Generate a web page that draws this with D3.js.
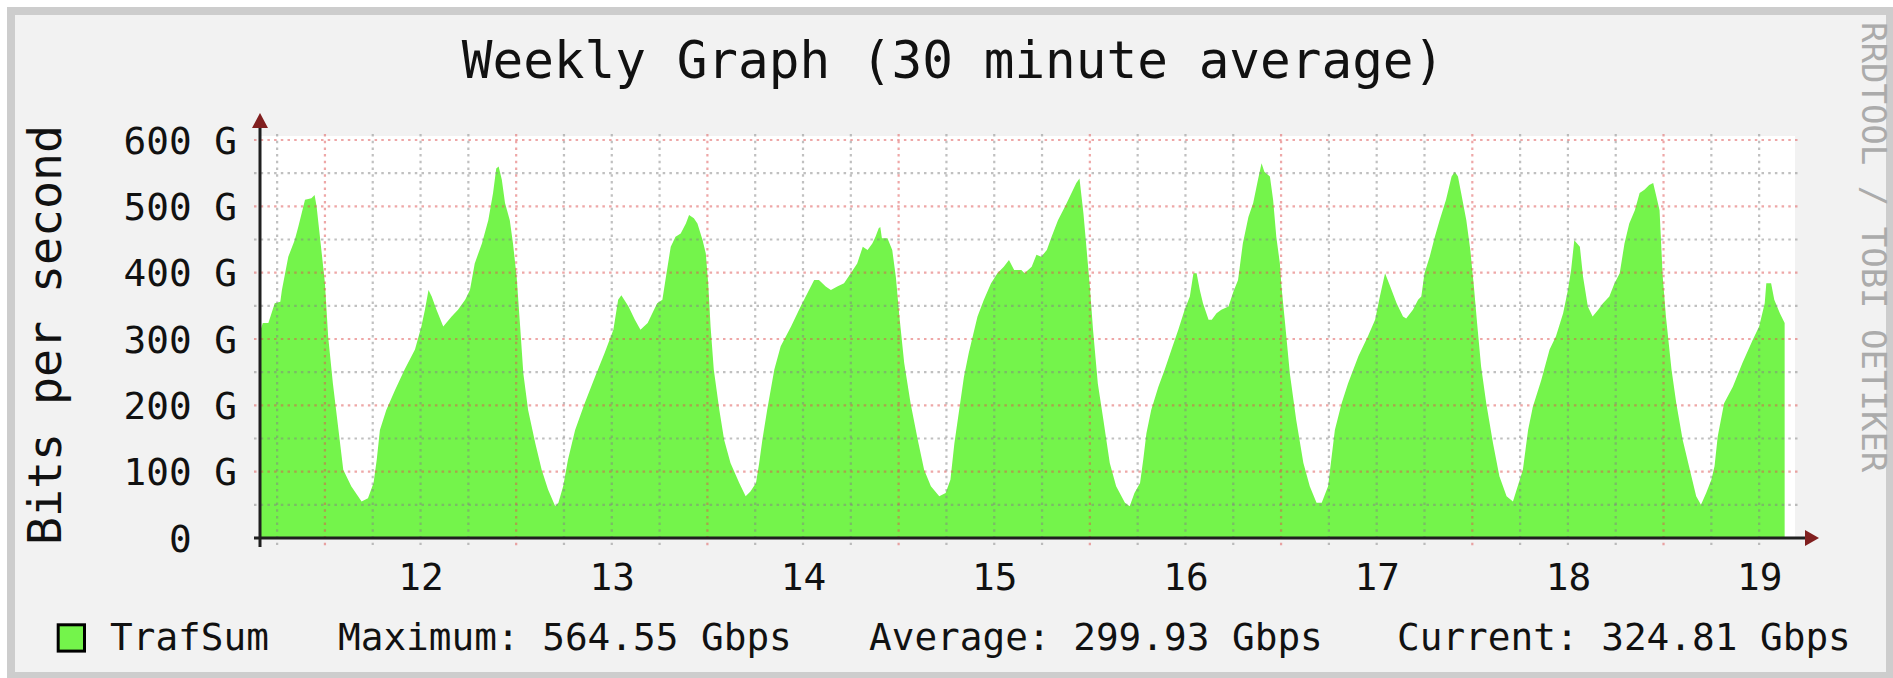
<!DOCTYPE html>
<html><head><meta charset="utf-8">
<script src="https://cdn.jsdelivr.net/npm/d3@7"></script>
<style>
html,body{margin:0;padding:0;background:#fff;}
svg{display:block;}
text{font-family:"DejaVu Sans Mono",monospace;white-space:pre;}
</style></head><body>
<svg id="chart" width="1893" height="678"></svg>
<script>
// ---- data (hours counted from day 11, 00:00; values in Gbit/s) ----
const chartTitle = "Weekly Graph (30 minute average)";
const unitLabel = "Bits per second";
const watermark = "RRDTOOL / TOBI OETIKER";
const hours = [15.85,16.2,16.9,17.7,18.4,18.6,19.4,20.2,20.65,21.5,22.3,22.7,22.95,23.6,24.0,24.4,25.0,25.7,26.3,27.3,28.6,29.4,30.1,30.5,30.9,31.7,32.8,34.0,35.3,36.1,36.55,37.0,37.4,38.0,38.85,39.9,40.7,41.6,42.2,42.8,43.7,44.5,45.1,45.5,45.8,46.2,46.6,47.2,47.6,48.06,48.5,48.9,49.5,50.4,51.2,52.0,52.9,53.3,53.9,54.5,55.4,56.6,57.9,59.1,60.2,60.8,61.2,62.1,62.9,63.6,64.5,65.3,65.7,66.35,66.8,67.4,68.0,68.65,69.3,69.7,70.3,70.75,71.4,71.8,72.1,72.4,72.8,73.5,74.1,74.9,76.0,76.8,77.4,78.1,78.5,78.9,79.5,80.4,81.2,82.5,83.7,84.55,85.4,86.0,86.85,87.5,88.3,89.15,90.0,90.8,91.5,92.1,92.7,93.1,93.5,93.7,93.9,94.6,95.2,95.65,96.1,96.7,97.5,98.4,99.2,100.05,101.1,101.9,102.5,103.0,103.6,104.2,104.8,105.9,106.7,107.6,108.4,109.2,109.85,110.5,111.4,111.8,112.7,113.3,113.9,114.6,115.2,116.0,116.9,117.7,118.3,118.7,119.2,119.6,120.0,120.4,121.0,121.7,122.5,123.3,124.4,125.0,125.6,126.3,126.7,127.1,127.7,128.6,129.4,130.25,131.1,131.9,132.55,133.0,133.4,133.8,134.2,134.9,135.3,135.9,136.5,137.4,138.0,138.6,139.2,139.9,140.5,141.1,141.55,141.9,142.6,143.0,143.4,143.85,144.05,144.5,145.1,145.9,146.8,147.6,148.45,149.1,149.9,150.3,150.75,151.6,152.4,153.7,154.9,155.8,156.4,157.05,157.7,158.5,159.3,159.7,160.55,161.2,161.6,162.0,162.65,163.3,163.9,164.7,165.4,165.8,166.2,166.6,167.25,167.75,168.2,168.6,169.1,169.75,170.6,171.4,172.3,173.1,173.7,174.35,175.0,175.6,176.65,177.7,178.5,179.4,180.0,180.4,180.8,181.5,181.9,182.5,183.1,183.8,184.4,185.2,185.85,186.5,187.1,187.7,188.4,189.0,189.6,190.2,190.7,191.1,191.5,191.9,192.3,193.0,193.6,194.4,195.3,196.1,196.7,197.35,198.0,198.4,198.8,199.6,200.7,201.9,203.2,204.0,204.7,204.9,205.5,205.9,206.6,207.2];
const traffic = [311,324,324,354,356,374,424,449,469,510,512,517,500,429,384,304,233,163,103,78,55,60,83,118,163,193,223,254,284,319,344,374,364,344,319,334,344,359,374,414,444,479,520,557,560,540,505,479,444,394,319,248,193,143,103,73,48,53,78,118,163,203,243,279,314,359,366,349,329,314,324,344,354,359,394,439,454,459,474,487,482,474,449,429,384,319,254,193,148,113,83,63,70,83,113,148,193,254,289,319,349,369,389,389,379,374,379,384,399,414,439,434,444,454,467,469,452,452,434,394,334,264,203,148,103,78,63,68,88,143,193,243,279,334,359,384,399,409,419,404,404,399,409,427,424,434,454,479,500,520,535,542,489,434,379,314,233,178,113,78,53,48,68,83,118,158,193,228,254,284,314,344,364,399,399,374,354,329,329,339,344,349,371,389,444,484,505,540,565,552,545,510,454,414,379,324,248,178,113,78,53,53,78,118,163,203,233,274,304,329,364,399,379,354,334,331,344,359,364,399,424,454,479,510,545,552,545,520,479,434,379,324,259,203,143,93,63,55,78,103,163,198,238,284,304,339,374,404,449,439,394,349,334,344,354,364,384,399,444,474,494,520,525,532,535,515,494,394,334,254,203,148,103,63,50,68,88,108,153,203,228,264,299,319,354,384,384,359,339,324];
const yTicks = [0,100,200,300,400,500,600];
const yTickLabels = ["0  ","100 G","200 G","300 G","400 G","500 G","600 G"];
const dayLabels = ["12","13","14","15","16","17","18","19"];
const legendName = "TrafSum";
const legendStats = ["Maximum: 564.55 Gbps","Average: 299.93 Gbps","Current: 324.81 Gbps"];

// ---- layout ----
const W = 1893, H = 678;
const X0 = 260, X1 = 1795, Y0 = 538, Y1 = 140;
const green = "#74F44B";
const svg = d3.select("#chart");

svg.append("rect").attr("x",7).attr("y",7).attr("width",W-7).attr("height",H-7).attr("fill","#cdcdcd");
svg.append("rect").attr("x",15).attr("y",15).attr("width",W-22).attr("height",H-21).attr("fill","#f2f2f2");

const x = d3.scaleLinear().domain([15.85, 208.5]).range([X0, X1]);
const y = d3.scaleLinear().domain([0, 600]).range([Y0, Y1]);

// canvas
svg.append("rect").attr("x",X0).attr("y",Y1-4).attr("width",X1-X0).attr("height",Y0-Y1+4).attr("fill","#fff");

// area
const data = hours.map((h,i)=>({h, v: traffic[i]}));
svg.append("path").datum(data)
  .attr("fill", green)
  .attr("d", d3.area().x(d=>x(d.h)).y0(y(0)).y1(d=>y(d.v)));

// grid (drawn over the area, like rrdtool)
const grid = svg.append("g");
const minorY = d3.range(50, 600, 100);
const minorX = d3.range(18, 208, 6).filter(h => h % 24 !== 0);
const majorX = d3.range(24, 208, 24);
const minorCol = "rgba(130,130,130,0.5)", majorCol = "rgba(222,79,79,0.5)";
const dash = "2.5,4.2";
grid.selectAll(".hy").data(minorY).join("line")
  .attr("x1",X0-6).attr("x2",X1+6).attr("y1",d=>y(d)).attr("y2",d=>y(d))
  .attr("stroke",minorCol).attr("stroke-width",2.2).attr("stroke-dasharray",dash);
grid.selectAll(".vx").data(minorX).join("line")
  .attr("x1",d=>x(d)).attr("x2",d=>x(d)).attr("y1",Y1-6).attr("y2",Y0+7)
  .attr("stroke",minorCol).attr("stroke-width",2.2).attr("stroke-dasharray",dash);
grid.selectAll(".hY").data(yTicks.slice(1)).join("line")
  .attr("x1",X0-6).attr("x2",X1+6).attr("y1",d=>y(d)).attr("y2",d=>y(d))
  .attr("stroke",majorCol).attr("stroke-width",2.2).attr("stroke-dasharray",dash);
grid.selectAll(".vX").data(majorX).join("line")
  .attr("x1",d=>x(d)).attr("x2",d=>x(d)).attr("y1",Y1-6).attr("y2",Y0+9)
  .attr("stroke",majorCol).attr("stroke-width",2.2).attr("stroke-dasharray",dash);

// axes lines + arrows
const axisCol = "#1f1f1f", arrowCol = "#801f1f";
svg.append("line").attr("x1",X0-6).attr("x2",1808).attr("y1",Y0).attr("y2",Y0).attr("stroke",axisCol).attr("stroke-width",3);
svg.append("line").attr("x1",X0).attr("x2",X0).attr("y1",Y0+9).attr("y2",126).attr("stroke",axisCol).attr("stroke-width",3);
svg.append("path").attr("d",`M1805,${Y0-8}L1819,${Y0}L1805,${Y0+8}Z`).attr("fill",arrowCol);
svg.append("path").attr("d",`M${X0-8},128L${X0},113L${X0+8},128Z`).attr("fill",arrowCol);

// y axis labels
const yAxis = d3.axisLeft(y).tickValues(yTicks).tickFormat((d,i)=>yTickLabels[i]).tickSize(0).tickPadding(23);
const gy = svg.append("g").attr("transform",`translate(${X0},0)`).call(yAxis);
gy.select(".domain").remove();
gy.selectAll("text").attr("font-family","DejaVu Sans Mono").attr("font-size",37.7).attr("fill","#111").attr("dy","0.345em");

// x axis labels (noon of each day)
const noon = dayLabels.map(d => (+d - 11) * 24 + 12);
const xAxis = d3.axisBottom(x).tickValues(noon).tickFormat((d,i)=>dayLabels[i]).tickSize(0).tickPadding(25);
const gx = svg.append("g").attr("transform",`translate(0,${Y0})`).call(xAxis);
gx.select(".domain").remove();
gx.selectAll("text").attr("font-family","DejaVu Sans Mono").attr("font-size",37.7).attr("fill","#111");

// title
svg.append("text").attr("x",953).attr("y",78).attr("text-anchor","middle")
  .attr("font-size",51).attr("fill","#111").text(chartTitle);

// unit label
svg.append("text").attr("transform","translate(61,335) rotate(-90)").attr("text-anchor","middle")
  .attr("font-size",46.5).attr("fill","#111").text(unitLabel);

// watermark
svg.append("text").attr("transform","translate(1862,22) rotate(90)").attr("text-anchor","start")
  .attr("font-size",34).attr("fill","#ababab").text(watermark);

// legend
svg.append("rect").attr("x",58.2).attr("y",624.8).attr("width",26.3).attr("height",26.3)
  .attr("fill",green).attr("stroke","#000").attr("stroke-width",3);
svg.append("text").attr("x",110).attr("y",650).attr("font-size",37.7).attr("fill","#111").text(legendName);
const legendX = [338, 869, 1397];
svg.selectAll(".lg").data(legendStats).join("text")
  .attr("x",(d,i)=>legendX[i]).attr("y",650).attr("font-size",37.7).attr("fill","#111").text(d=>d);
</script>
</body></html>
